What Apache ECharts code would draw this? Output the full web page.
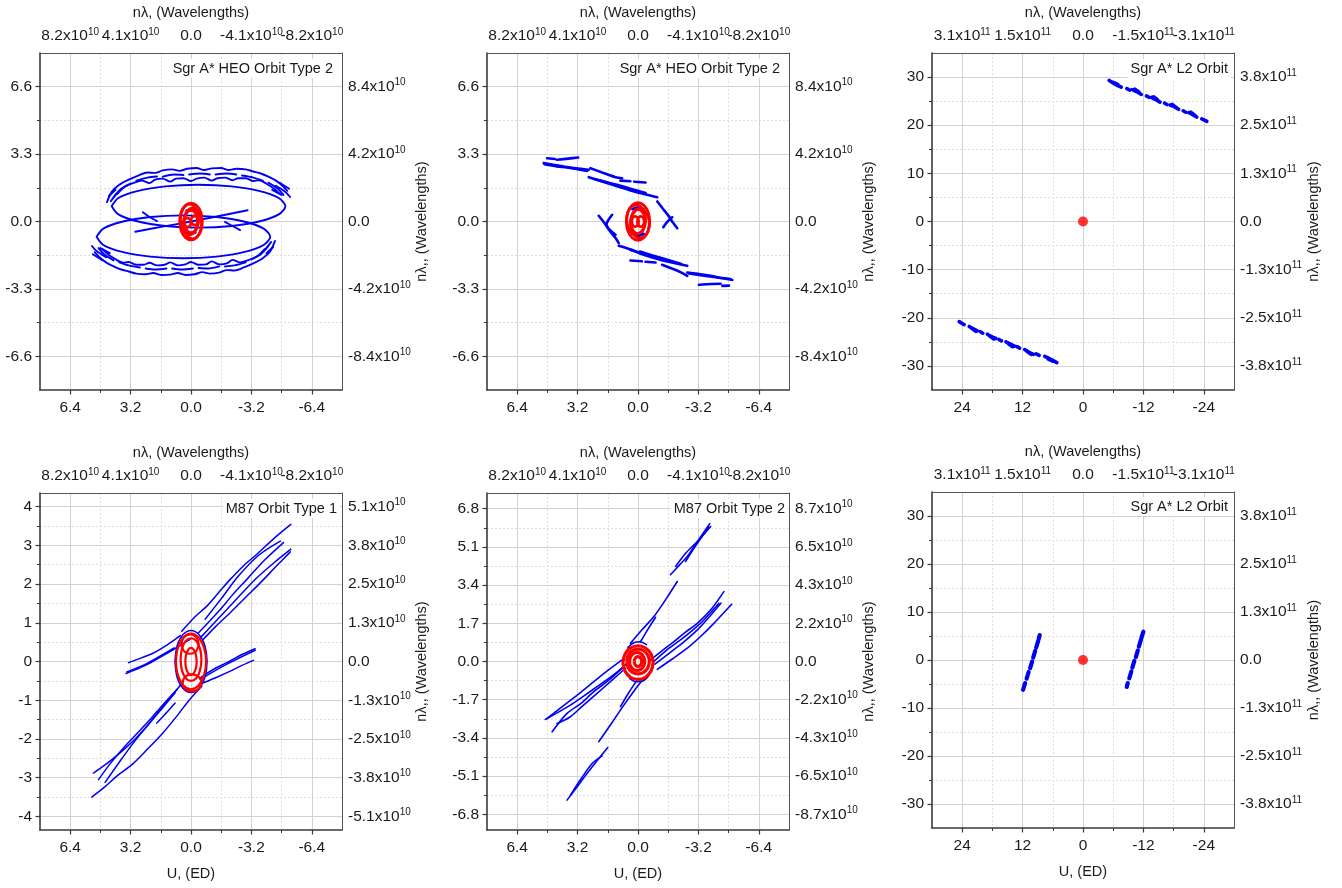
<!DOCTYPE html>
<html><head><meta charset="utf-8">
<script src="https://cdn.jsdelivr.net/npm/echarts@6/dist/echarts.min.js"></script>
<style>html,body{margin:0;padding:0;background:#fff}#c{width:1342px;height:888px}</style>
</head><body><div id="c"></div>
<script>
// ---------- axis ranges / ticks / labels ----------
const xRangeA = [-8, 8];
const xMajorA = [6.4, 3.2, 0, -3.2, -6.4];
const xMinorA = [4.8, 1.6, -1.6, -4.8];
const xLabelsA = ['6.4', '3.2', '0.0', '-3.2', '-6.4'];
const topLabelsA = ['8.2x10^10', '4.1x10^10', '0.0', '-4.1x10^10', '-8.2x10^10'];

const xRangeL2 = [-30, 30];
const xMajorL2 = [24, 12, 0, -12, -24];
const xMinorL2 = [18, 6, -6, -18];
const xLabelsL2 = ['24', '12', '0', '-12', '-24'];
const topLabelsL2 = ['3.1x10^11', '1.5x10^11', '0.0', '-1.5x10^11', '-3.1x10^11'];

const yRangeHEO = [-8.25, 8.25];
const yMajorHEO = [6.6, 3.3, 0, -3.3, -6.6];
const yMinorHEO = [4.95, 1.65, -1.65, -4.95];
const yLabelsHEO = ['6.6', '3.3', '0.0', '-3.3', '-6.6'];
const rightLabelsHEO = ['8.4x10^10', '4.2x10^10', '0.0', '-4.2x10^10', '-8.4x10^10'];

const yRangeL2 = [-35, 35];
const yMajorL2 = [30, 20, 10, 0, -10, -20, -30];
const yMinorL2 = [25, 15, 5, -5, -15, -25];
const yLabelsL2 = ['30', '20', '10', '0', '-10', '-20', '-30'];
const rightLabelsL2 = ['3.8x10^11', '2.5x10^11', '1.3x10^11', '0.0', '-1.3x10^11', '-2.5x10^11', '-3.8x10^11'];

const yRangeM1 = [-4.35, 4.35];
const yMajorM1 = [4, 3, 2, 1, 0, -1, -2, -3, -4];
const yMinorM1 = [3.5, 2.5, 1.5, 0.5, -0.5, -1.5, -2.5, -3.5];
const yLabelsM1 = ['4', '3', '2', '1', '0', '-1', '-2', '-3', '-4'];
const rightLabelsM1 = ['5.1x10^10', '3.8x10^10', '2.5x10^10', '1.3x10^10', '0.0', '-1.3x10^10', '-2.5x10^10', '-3.8x10^10', '-5.1x10^10'];

const yRangeM2 = [-7.5, 7.5];
const yMajorM2 = [6.8, 5.1, 3.4, 1.7, 0, -1.7, -3.4, -5.1, -6.8];
const yMinorM2 = [5.95, 4.25, 2.55, 0.85, -0.85, -2.55, -4.25, -5.95];
const yLabelsM2 = ['6.8', '5.1', '3.4', '1.7', '0.0', '-1.7', '-3.4', '-5.1', '-6.8'];
const rightLabelsM2 = ['8.7x10^10', '6.5x10^10', '4.3x10^10', '2.2x10^10', '0.0', '-2.2x10^10', '-4.3x10^10', '-6.5x10^10', '-8.7x10^10'];

const titles = ['Sgr A* HEO Orbit Type 2', 'Sgr A* HEO Orbit Type 2', 'Sgr A* L2 Orbit', 'M87 Orbit Type 1', 'M87 Orbit Type 2', 'Sgr A* L2 Orbit'];

// ---------- panel 1 : Sgr A* HEO Orbit Type 2 ----------
const p1Blue = [
 [[4.2,0.75],[3.85,1.15],[2.85,1.49],[1.36,1.72],[-0.4,1.8],[-2.16,1.72],[-3.65,1.49],[-4.65,1.15],[-5.0,0.75],[-4.65,0.35],[-3.65,0.01],[-2.16,-0.22],[-0.4,-0.3],[1.36,-0.22],[2.85,0.01],[3.85,0.35],[4.2,0.75]],
 [[5.0,-0.75],[4.65,-0.35],[3.65,-0.01],[2.16,0.22],[0.4,0.3],[-1.36,0.22],[-2.85,-0.01],[-3.85,-0.35],[-4.2,-0.75],[-3.85,-1.15],[-2.85,-1.49],[-1.36,-1.72],[0.4,-1.8],[2.16,-1.72],[3.65,-1.49],[4.65,-1.15],[5.0,-0.75]],
 [[4.45,0.95],[4.2,1.45],[3.8,1.8],[3.3,2.05],[2.8,2.25],[2.3,2.4],[1.9,2.38],[1.5,2.5],[1.0,2.55],[0.6,2.48],[0.2,2.58],[-0.3,2.62],[-0.7,2.52],[-1.1,2.6],[-1.6,2.62],[-2.0,2.52],[-2.4,2.58],[-2.9,2.55],[-3.3,2.45],[-3.7,2.35],[-4.1,2.2],[-4.5,2.0],[-4.85,1.75],[-5.1,1.5]],
 [[4.1,1.2],[3.7,1.6],[3.2,1.85]],
 [[2.9,2.0],[2.3,2.15],[1.8,2.2]],
 [[1.5,2.2],[0.9,2.3],[0.4,2.28]],
 [[0.1,2.3],[-0.5,2.35],[-1.0,2.3]],
 [[-1.3,2.3],[-1.9,2.35],[-2.4,2.3]],
 [[-2.7,2.25],[-3.3,2.15],[-3.8,2.0]],
 [[-4.1,1.9],[-4.6,1.6],[-4.9,1.3]],
 [[3.9,1.35],[3.5,1.7],[3.0,1.9],[2.6,2.0],[2.2,1.88],[1.9,2.05],[1.5,2.1],[1.1,1.95],[0.8,2.1],[0.4,2.12],[0.0,1.98],[-0.3,2.1],[-0.7,2.15],[-1.1,2.0],[-1.4,2.12],[-1.8,2.15],[-2.2,2.02],[-2.5,2.12],[-2.9,2.12],[-3.3,1.98],[-3.6,2.02],[-4.0,1.85],[-4.4,1.6],[-4.7,1.35]],
 [[4.35,1.25],[4.0,1.55]],
 [[4.25,1.0],[3.95,1.35]],
 [[-4.7,1.9],[-5.2,1.6]],
 [[-4.5,1.75],[-5.0,1.45],[-5.25,1.2]],
 [[-4.3,1.55],[-4.8,1.3]],
 [[-4.45,-0.95],[-4.2,-1.45],[-3.8,-1.8],[-3.3,-2.05],[-2.8,-2.25],[-2.3,-2.4],[-1.9,-2.38],[-1.5,-2.5],[-1.0,-2.55],[-0.6,-2.48],[-0.2,-2.58],[0.3,-2.62],[0.7,-2.52],[1.1,-2.6],[1.6,-2.62],[2.0,-2.52],[2.4,-2.58],[2.9,-2.55],[3.3,-2.45],[3.7,-2.35],[4.1,-2.2],[4.5,-2.0],[4.85,-1.75],[5.1,-1.5]],
 [[-4.1,-1.2],[-3.7,-1.6],[-3.2,-1.85]],
 [[-2.9,-2.0],[-2.3,-2.15],[-1.8,-2.2]],
 [[-1.5,-2.2],[-0.9,-2.3],[-0.4,-2.28]],
 [[-0.1,-2.3],[0.5,-2.35],[1.0,-2.3]],
 [[1.3,-2.3],[1.9,-2.35],[2.4,-2.3]],
 [[2.7,-2.25],[3.3,-2.15],[3.8,-2.0]],
 [[4.1,-1.9],[4.6,-1.6],[4.9,-1.3]],
 [[-3.9,-1.35],[-3.5,-1.7],[-3.0,-1.9],[-2.6,-2.0],[-2.2,-1.88],[-1.9,-2.05],[-1.5,-2.1],[-1.1,-1.95],[-0.8,-2.1],[-0.4,-2.12],[0.0,-1.98],[0.3,-2.1],[0.7,-2.15],[1.1,-2.0],[1.4,-2.12],[1.8,-2.15],[2.2,-2.02],[2.5,-2.12],[2.9,-2.12],[3.3,-1.98],[3.6,-2.02],[4.0,-1.85],[4.4,-1.6],[4.7,-1.35]],
 [[-4.35,-1.25],[-4.0,-1.55]],
 [[-4.25,-1.0],[-3.95,-1.35]],
 [[4.7,-1.9],[5.2,-1.6]],
 [[4.5,-1.75],[5.0,-1.45],[5.25,-1.2]],
 [[4.3,-1.55],[4.8,-1.3]],
 [[2.95,-0.5],[1.5,-0.25],[0.0,0.0],[-1.5,0.27],[-3.0,0.55]],
 [[2.55,0.45],[2.2,0.22],[1.8,0.02]],
 [[-1.8,-0.02],[-2.2,-0.22],[-2.6,-0.42]],
 [[0.25,0.55],[0.0,0.62],[-0.25,0.55]],
 [[0.25,-0.55],[0.0,-0.62],[-0.25,-0.55]]
];
const p1Red = [
 [[0.6,0],[0.52,0.45],[0.3,0.78],[0,0.9],[-0.3,0.78],[-0.52,0.45],[-0.6,0],[-0.52,-0.45],[-0.3,-0.78],[0,-0.9],[0.3,-0.78],[0.52,-0.45],[0.6,0]],
 [[0.56,0.1],[0.5,0.475],[0.32,0.75],[0.08,0.85],[-0.16,0.75],[-0.34,0.475],[-0.4,0.1],[-0.34,-0.275],[-0.16,-0.55],[0.08,-0.65],[0.32,-0.55],[0.5,-0.275],[0.56,0.1]],
 [[-0.56,-0.1],[-0.5,-0.475],[-0.32,-0.75],[-0.08,-0.85],[0.16,-0.75],[0.34,-0.475],[0.4,-0.1],[0.34,0.275],[0.16,0.55],[-0.08,0.65],[-0.32,0.55],[-0.5,0.275],[-0.56,-0.1]],
 [[0.4,-0.05],[0.37,0.06],[0.3,0.14],[0.2,0.17],[0.1,0.14],[0.03,0.06],[0,-0.05],[0.03,-0.16],[0.1,-0.24],[0.2,-0.27],[0.3,-0.24],[0.37,-0.16],[0.4,-0.05]],
 [[-0.4,0.05],[-0.37,-0.06],[-0.3,-0.14],[-0.2,-0.17],[-0.1,-0.14],[-0.03,-0.06],[0,0.05],[-0.03,0.16],[-0.1,0.24],[-0.2,0.27],[-0.3,0.24],[-0.37,0.16],[-0.4,0.05]],
 [[0.35,0],[0.3,0.275],[0.175,0.48],[0,0.55],[-0.175,0.48],[-0.3,0.275],[-0.35,0],[-0.3,-0.275],[-0.175,-0.48],[0,-0.55],[0.175,-0.48],[0.3,-0.275],[0.35,0]]
];

// ---------- panel 2 : Sgr A* HEO Orbit Type 2 ----------
const p2Blue = [
 [[5.0,2.86],[4.5,2.78],[3.93,2.69],[3.3,2.6],[2.61,2.53]],
 [[4.96,2.8],[4.3,2.7],[3.76,2.64],[3.2,2.56],[2.7,2.48]],
 [[4.82,3.1],[4.4,3.06]],
 [[4.29,3.02],[3.7,3.08],[3.17,3.13]],
 [[2.52,2.61],[1.9,2.4],[1.19,2.17],[0.84,2.12]],
 [[0.93,2.0],[0.4,1.97]],
 [[0.2,1.95],[-0.4,1.91]],
 [[2.61,2.17],[1.64,1.88],[0.4,1.52],[-0.3,1.35],[-1.02,1.19]],
 [[1.99,2.01],[0.93,1.75],[-0.4,1.39]],
 [[2.3,2.08],[1.2,1.78],[0.1,1.47]],
 [[-1.02,0.98],[-1.3,0.65],[-1.6,0.3],[-1.85,-0.05],[-2.08,-0.33]],
 [[-1.34,-0.28],[-1.55,-0.02],[-1.81,0.21]],
 [[2.08,0.28],[1.8,-0.05],[1.5,-0.45],[1.2,-0.8],[1.02,-1.06]],
 [[1.37,0.33],[1.67,-0.16],[1.19,-0.65]],
 [[-2.61,-2.5],[-3.3,-2.58],[-3.85,-2.66],[-4.5,-2.78],[-5.0,-2.86]],
 [[-2.7,-2.55],[-3.5,-2.65],[-4.3,-2.75],[-4.9,-2.82]],
 [[-3.23,-3.1],[-3.9,-3.06],[-4.38,-3.05]],
 [[-4.47,-3.15],[-4.82,-3.14]],
 [[-1.28,-2.12],[-1.9,-2.34],[-2.3,-2.5],[-2.61,-2.66]],
 [[0.4,-1.91],[-0.2,-1.95]],
 [[-0.4,-1.97],[-0.93,-2.01]],
 [[1.02,-1.19],[0.3,-1.4],[-0.31,-1.63],[-0.9,-1.8],[-1.55,-1.96],[-2.61,-2.17]],
 [[0.4,-1.39],[-0.93,-1.75],[-1.99,-2.01]],
 [[-0.1,-1.47],[-1.2,-1.78],[-2.3,-2.08]],
 [[0.3,0.6],[0.0,0.7],[-0.3,0.6]],
 [[0.3,-0.6],[0.0,-0.7],[-0.3,-0.6]]
];
const p2Red = [
 [[0.62,0],[0.54,0.46],[0.31,0.8],[0,0.92],[-0.31,0.8],[-0.54,0.46],[-0.62,0],[-0.54,-0.46],[-0.31,-0.8],[0,-0.92],[0.31,-0.8],[0.54,-0.46],[0.62,0]],
 [[0.6,0.1],[0.53,0.46],[0.35,0.72],[0.1,0.82],[-0.15,0.72],[-0.33,0.46],[-0.4,0.1],[-0.33,-0.26],[-0.15,-0.52],[0.1,-0.62],[0.35,-0.52],[0.53,-0.26],[0.6,0.1]],
 [[-0.6,-0.1],[-0.53,-0.46],[-0.35,-0.72],[-0.1,-0.82],[0.15,-0.72],[0.33,-0.46],[0.4,-0.1],[0.33,0.26],[0.15,0.52],[-0.1,0.62],[-0.35,0.52],[-0.53,0.26],[-0.6,-0.1]],
 [[0.33,0],[0.31,0.125],[0.24,0.22],[0.15,0.25],[0.06,0.22],[-0.01,0.125],[-0.03,0],[-0.01,-0.125],[0.06,-0.22],[0.15,-0.25],[0.24,-0.22],[0.31,-0.125],[0.33,0]],
 [[-0.33,0],[-0.31,-0.125],[-0.24,-0.22],[-0.15,-0.25],[-0.06,-0.22],[0.01,-0.125],[0.03,0],[0.01,0.125],[-0.06,0.22],[-0.15,0.25],[-0.24,0.22],[-0.31,0.125],[-0.33,0]],
 [[0.38,0],[0.33,0.3],[0.19,0.52],[0,0.6],[-0.19,0.52],[-0.33,0.3],[-0.38,0],[-0.33,-0.3],[-0.19,-0.52],[0,-0.6],[0.19,-0.52],[0.33,-0.3],[0.38,0]]
];

// ---------- panel 3 : Sgr A* L2 Orbit ----------
const p3Blue = [
 [[-5.2,29.3],[-6.3,28.6],[-7.6,27.9]],
 [[-6.0,28.9],[-6.9,28.5]],
 [[-8.7,27.6],[-9.3,27.3]],
 [[-9.8,27.4],[-10.8,26.9],[-11.6,26.4]],
 [[-10.3,27.5],[-11.1,26.9]],
 [[-12.6,26.1],[-13.1,25.8]],
 [[-13.6,25.8],[-14.5,25.3],[-15.3,24.8]],
 [[-14.0,25.9],[-14.8,25.3]],
 [[-16.2,24.6],[-16.7,24.3]],
 [[-17.3,24.2],[-18.2,23.8],[-19.0,23.3]],
 [[-17.7,24.3],[-18.5,23.7]],
 [[-19.9,23.0],[-20.4,22.7]],
 [[-21.0,22.6],[-21.8,22.2],[-22.6,21.7]],
 [[-21.4,22.7],[-22.2,22.1]],
 [[-23.6,21.3],[-24.0,21.1]],
 [[-24.3,21.0],[-24.6,20.8]],
 [[24.6,-20.8],[24.3,-21.0]],
 [[24.0,-21.2],[23.6,-21.4]],
 [[22.6,-21.8],[21.8,-22.3],[21.0,-22.7]],
 [[22.1,-22.2],[21.3,-22.8]],
 [[20.4,-22.9],[19.9,-23.2]],
 [[19.0,-23.4],[18.2,-23.9],[17.3,-24.3]],
 [[18.5,-23.8],[17.7,-24.4]],
 [[16.7,-24.5],[16.2,-24.8]],
 [[15.3,-25.0],[14.5,-25.4],[13.6,-25.9]],
 [[14.8,-25.4],[14.0,-26.0]],
 [[13.1,-26.0],[12.6,-26.3]],
 [[11.6,-26.6],[10.8,-27.1],[9.8,-27.6]],
 [[11.1,-27.0],[10.3,-27.6]],
 [[9.3,-27.5],[8.7,-27.8]],
 [[7.6,-28.0],[6.3,-28.7],[5.2,-29.3]],
 [[6.9,-28.6],[6.0,-29.0]]
];
const p3Red = [[0, 0]];

// ---------- panel 4 : M87 Orbit Type 1 ----------
const p4Blue = [
 [[0.49,0.78],[-0.2,1.15],[-0.84,1.43],[-1.5,1.8],[-2.08,2.12],[-2.8,2.48],[-3.49,2.77],[-4.4,3.18],[-5.29,3.54]],
 [[-0.75,1.09],[-1.6,1.62],[-2.5,2.2],[-3.6,2.75],[-4.73,3.11]],
 [[-0.4,0.74],[-1.0,1.05],[-1.55,1.34],[-2.2,1.72],[-2.96,2.12],[-3.9,2.62],[-4.9,3.07]],
 [[-0.49,0.61],[-1.2,0.98],[-1.9,1.34],[-2.7,1.76],[-3.49,2.16],[-4.4,2.55],[-5.29,2.9]],
 [[-0.57,0.53],[-1.3,0.9],[-2.08,1.26],[-2.9,1.66],[-3.67,2.03],[-4.5,2.45],[-5.26,2.83]],
 [[3.31,-0.03],[2.6,0.1],[1.99,0.22],[1.2,0.45],[0.57,0.67]],
 [[3.44,-0.31],[2.9,-0.2],[2.34,-0.08],[1.6,0.12],[0.93,0.31],[0.05,0.57]],
 [[3.4,-0.27],[2.3,-0.04],[0.9,0.35]],
 [[-0.49,-0.42],[-1.2,-0.2],[-1.9,-0.03],[-2.7,0.18],[-3.4,0.33]],
 [[-0.5,-0.46],[-1.9,-0.07],[-3.4,0.29]],
 [[-0.66,-0.55],[-1.4,-0.4],[-2.08,-0.25],[-2.7,-0.1],[-3.31,0.03]],
 [[-0.57,-0.64],[0.1,-1.0],[0.75,-1.41],[1.5,-1.85],[2.34,-2.28],[3.1,-2.65],[3.93,-2.96],[4.6,-3.25],[5.26,-3.5]],
 [[0.84,-0.81],[1.6,-1.25],[2.34,-1.67],[3.0,-2.02],[3.76,-2.36],[4.5,-2.65],[5.17,-2.88]],
 [[0.75,-0.72],[1.5,-1.12],[2.17,-1.5],[2.9,-1.88],[3.58,-2.23],[4.3,-2.65],[4.9,-3.05]],
 [[0.4,-0.51],[1.0,-0.88],[1.63,-1.24],[2.3,-1.65],[3.05,-2.1],[3.8,-2.6],[4.55,-3.12]],
 [[0.84,-1.07],[1.3,-1.32],[1.81,-1.59]],
 [[0.85,0],[0.74,0.4],[0.43,0.69],[0,0.8],[-0.43,0.69],[-0.74,0.4],[-0.85,0],[-0.74,-0.4],[-0.43,-0.69],[0,-0.8],[0.43,-0.69],[0.74,-0.4],[0.85,0]]
];
const p4Red = [
 [[0.8,0],[0.69,0.36],[0.4,0.62],[0,0.72],[-0.4,0.62],[-0.69,0.36],[-0.8,0],[-0.69,-0.36],[-0.4,-0.62],[0,-0.72],[0.4,-0.62],[0.69,-0.36],[0.8,0]],
 [[0.55,0.05],[0.48,0.33],[0.28,0.53],[0,0.6],[-0.28,0.53],[-0.48,0.33],[-0.55,0.05],[-0.48,-0.23],[-0.28,-0.43],[0,-0.5],[0.28,-0.43],[0.48,-0.23],[0.55,0.05]],
 [[0.5,0.45],[0.44,0.575],[0.275,0.67],[0.05,0.7],[-0.175,0.67],[-0.34,0.575],[-0.4,0.45],[-0.34,0.325],[-0.175,0.23],[0.05,0.2],[0.275,0.23],[0.44,0.325],[0.5,0.45]],
 [[0.45,-0.55],[0.38,-0.44],[0.2,-0.36],[-0.05,-0.33],[-0.3,-0.36],[-0.48,-0.44],[-0.55,-0.55],[-0.48,-0.66],[-0.3,-0.74],[-0.05,-0.77],[0.2,-0.74],[0.38,-0.66],[0.45,-0.55]],
 [[0.3,0],[0.26,0.175],[0.15,0.3],[0,0.35],[-0.15,0.3],[-0.26,0.175],[-0.3,0],[-0.26,-0.175],[-0.15,-0.3],[0,-0.35],[0.15,-0.3],[0.26,-0.175],[0.3,0]]
];

// ---------- panel 5 : M87 Orbit Type 2 ----------
const p5Blue = [
 [[-1.72,3.86],[-2.2,4.3],[-2.61,4.67],[-3.2,5.4],[-3.8,6.13]],
 [[-1.99,4.23],[-2.5,4.8],[-3.14,5.34],[-3.85,6.01]],
 [[-2.52,4.45],[-3.1,5.2],[-3.76,5.98]],
 [[0.4,0.81],[-0.2,1.4],[-0.84,2.0],[-1.5,2.8],[-2.08,3.56]],
 [[-0.13,0.88],[-0.5,1.4],[-0.93,1.97]],
 [[-0.66,0.07],[-1.3,0.5],[-1.9,0.88],[-2.5,1.3],[-3.14,1.7],[-3.9,2.35],[-4.55,3.11]],
 [[-0.84,0.0],[-1.5,0.5],[-2.25,0.96],[-2.9,1.4],[-3.49,1.85],[-4.29,2.59]],
 [[-0.9,-0.12],[-1.7,0.4],[-2.4,0.85],[-3.2,1.45],[-3.9,2.1],[-4.4,2.6]],
 [[-1.02,-0.35],[-1.8,0.1],[-2.61,0.59],[-3.3,1.1],[-3.94,1.63],[-4.96,2.55]],
 [[0.57,-0.08],[1.3,-0.6],[2.17,-1.12],[2.9,-1.55],[3.58,-1.94],[4.91,-2.58]],
 [[0.75,-0.23],[1.5,-0.8],[2.34,-1.34],[3.0,-1.85],[3.76,-2.31],[4.55,-3.13]],
 [[0.66,-0.3],[1.4,-0.85],[2.17,-1.42],[2.9,-1.95],[3.58,-2.46],[4.29,-2.76]],
 [[0.84,0.07],[1.6,-0.4],[2.34,-0.9],[3.0,-1.35],[3.67,-1.79],[4.82,-2.53]],
 [[-0.31,-0.75],[0.2,-1.3],[0.75,-1.94],[1.4,-2.75],[2.08,-3.57]],
 [[0.04,-0.82],[0.5,-1.4],[0.93,-2.01]],
 [[1.6,-3.83],[2.15,-4.4],[2.7,-4.99],[3.2,-5.55],[3.76,-6.17]],
 [[1.9,-4.2],[2.43,-4.54],[3.0,-5.2],[3.58,-5.95]],
 [[0.55,0.6],[0.25,0.82],[-0.1,0.88],[-0.45,0.75]],
 [[-0.55,-0.65],[-0.25,-0.87],[0.1,-0.9],[0.45,-0.75]],
 [[0.7,0.3],[0.8,0.0],[0.7,-0.3]],
 [[-0.7,0.35],[-0.8,0.05],[-0.72,-0.3]]
];
const p5Red = [
 [[0.8,-0.05],[0.69,0.325],[0.4,0.6],[0,0.7],[-0.4,0.6],[-0.69,0.325],[-0.8,-0.05],[-0.69,-0.425],[-0.4,-0.7],[0,-0.8],[0.4,-0.7],[0.69,-0.425],[0.8,-0.05]],
 [[0.6,0],[0.52,0.275],[0.3,0.48],[0,0.55],[-0.3,0.48],[-0.52,0.275],[-0.6,0],[-0.52,-0.275],[-0.3,-0.48],[0,-0.55],[0.3,-0.48],[0.52,-0.275],[0.6,0]],
 [[0.45,0],[0.4,0.2],[0.25,0.35],[0.05,0.4],[-0.15,0.35],[-0.3,0.2],[-0.35,0],[-0.3,-0.2],[-0.15,-0.35],[0.05,-0.4],[0.25,-0.35],[0.4,-0.2],[0.45,0]],
 [[0.2,0],[0.17,0.11],[0.1,0.19],[0,0.22],[-0.1,0.19],[-0.17,0.11],[-0.2,0],[-0.17,-0.11],[-0.1,-0.19],[0,-0.22],[0.1,-0.19],[0.17,-0.11],[0.2,0]]
];

// ---------- panel 6 : Sgr A* L2 Orbit ----------
const p6Blue = [
 [[11.9,-6.2],[11.5,-4.8]],
 [[11.2,-3.9],[10.8,-2.5]],
 [[10.5,-1.7],[10.1,-0.3]],
 [[9.9,0.5],[9.5,1.9]],
 [[9.3,2.6],[8.9,4.0]],
 [[8.8,4.4],[8.6,5.2]],
 [[-8.7,-5.6],[-8.9,-4.8]],
 [[-9.2,-3.8],[-9.6,-2.4]],
 [[-9.8,-1.6],[-10.2,-0.2]],
 [[-10.5,0.6],[-10.9,2.0]],
 [[-11.1,2.8],[-11.5,4.2]],
 [[-11.6,4.6],[-12.0,5.9]]
];
const p6Red = [[0, 0]];

// ---------- layout & style ----------
const FONT = '"Liberation Sans", Arial, Helvetica, sans-serif';
const TXT = '#1a1a1a';
const BLUE = '#0000f5';
const RED = '#ff0000';
const gridBoxes = [
  {left: 40, top: 53, width: 302, height: 337},
  {left: 487, top: 53, width: 302, height: 337},
  {left: 932, top: 53, width: 302, height: 337},
  {left: 40, top: 493, width: 302, height: 337},
  {left: 487, top: 493, width: 302, height: 337},
  {left: 932, top: 492, width: 302, height: 336}
];
const titleBoxes = [
  {right: 1006, top: 59}, {right: 559, top: 59}, {right: 111, top: 59},
  {right: 1002, top: 499}, {right: 554, top: 499}, {right: 111, top: 497}
];
const blueWidth = [1.9, 2.6, 3.6, 1.5, 1.6, 4.2];
const redWidth = [2.8, 2.8, 0, 2.2, 3.2, 0];

const panels = [
  {x: xRangeA, xMajor: xMajorA, xMinor: xMinorA, xLabels: xLabelsA, top: topLabelsA,
   y: yRangeHEO, yMajor: yMajorHEO, yMinor: yMinorHEO, yLabels: yLabelsHEO, right: rightLabelsHEO, blue: p1Blue, red: p1Red, dot: null, bottomName: false},
  {x: xRangeA, xMajor: xMajorA, xMinor: xMinorA, xLabels: xLabelsA, top: topLabelsA,
   y: yRangeHEO, yMajor: yMajorHEO, yMinor: yMinorHEO, yLabels: yLabelsHEO, right: rightLabelsHEO, blue: p2Blue, red: p2Red, dot: null, bottomName: false},
  {x: xRangeL2, xMajor: xMajorL2, xMinor: xMinorL2, xLabels: xLabelsL2, top: topLabelsL2,
   y: yRangeL2, yMajor: yMajorL2, yMinor: yMinorL2, yLabels: yLabelsL2, right: rightLabelsL2, blue: p3Blue, red: [], dot: p3Red, bottomName: false},
  {x: xRangeA, xMajor: xMajorA, xMinor: xMinorA, xLabels: xLabelsA, top: topLabelsA,
   y: yRangeM1, yMajor: yMajorM1, yMinor: yMinorM1, yLabels: yLabelsM1, right: rightLabelsM1, blue: p4Blue, red: p4Red, dot: null, bottomName: true},
  {x: xRangeA, xMajor: xMajorA, xMinor: xMinorA, xLabels: xLabelsA, top: topLabelsA,
   y: yRangeM2, yMajor: yMajorM2, yMinor: yMinorM2, yLabels: yLabelsM2, right: rightLabelsM2, blue: p5Blue, red: p5Red, dot: null, bottomName: true},
  {x: xRangeL2, xMajor: xMajorL2, xMinor: xMinorL2, xLabels: xLabelsL2, top: topLabelsL2,
   y: yRangeL2, yMajor: yMajorL2, yMinor: yMinorL2, yLabels: yLabelsL2, right: rightLabelsL2, blue: p6Blue, red: [], dot: p6Red, bottomName: true}
];

function lookup(major, labels) {
  return function (v) {
    for (let k = 0; k < major.length; k++) if (Math.abs(major[k] - v) < 1e-6) return labels[k];
    return '';
  };
}
function sci(s) {
  const p = s.split('^');
  return p.length > 1 ? '{n|' + p[0] + '}{s|' + p[1] + '}' : '{n|' + s + '}';
}
const LBL = 15.5;
const rich = {
  n: {fontSize: LBL, fontFamily: FONT, color: TXT, lineHeight: 18},
  s: {fontSize: 10, fontFamily: FONT, color: TXT, lineHeight: 10, verticalAlign: 'top'}
};
const nameStyle = {fontSize: 14.5, fontFamily: FONT, color: TXT};
const AX = '#3a3a3a';
const labelCommon = {show: true, hideOverlap: false, showMinLabel: true, showMaxLabel: true};

const grid = [], xAxis = [], yAxis = [], series = [], title = [];
let xCount = 0;
panels.forEach(function (P, i) {
  grid.push(Object.assign({containLabel: false}, gridBoxes[i]));
  const xMain = xCount;
  const topEven = P.xMajor.filter(function (_, k) { return k % 2 === 0; });
  const topOdd = P.xMajor.filter(function (_, k) { return k % 2 === 1; });
  const topF = lookup(P.xMajor, P.top);
  xAxis.push({gridIndex: i, type: 'value', position: 'bottom', min: P.x[0], max: P.x[1], inverse: true,
    axisLine: {show: true, onZero: false, lineStyle: {color: AX, width: 1.6}},
    axisTick: {show: true, inside: false, length: 4.5, customValues: P.xMajor, lineStyle: {color: AX, width: 1.2}},
    axisLabel: Object.assign({customValues: P.xMajor, formatter: lookup(P.xMajor, P.xLabels), fontSize: LBL, fontFamily: FONT, color: TXT, margin: 10}, labelCommon),
    splitLine: {show: false},
    name: P.bottomName ? 'U, (ED)' : '', nameLocation: 'middle', nameGap: 36, nameTextStyle: nameStyle});
  xAxis.push({gridIndex: i, type: 'value', position: 'top', min: P.x[0], max: P.x[1], inverse: true,
    axisLine: {show: true, onZero: false, lineStyle: {color: '#555', width: 1}},
    axisTick: {show: false, customValues: P.xMajor},
    axisLabel: Object.assign({customValues: topEven, formatter: function (v) { return sci(topF(v)); }, rich: rich, margin: 8}, labelCommon),
    splitLine: {show: true, lineStyle: {color: '#d2d2d2', width: 1}},
    name: 'n\u03bb, (Wavelengths)', nameLocation: 'middle', nameGap: 33, nameTextStyle: nameStyle});
  xAxis.push({gridIndex: i, type: 'value', position: 'top', min: P.x[0], max: P.x[1], inverse: true,
    axisLine: {show: false, onZero: false},
    axisTick: {show: false, customValues: topOdd},
    axisLabel: Object.assign({customValues: topOdd, formatter: function (v) { return sci(topF(v)); }, rich: rich, margin: 8}, labelCommon),
    splitLine: {show: false}});
  xAxis.push({gridIndex: i, type: 'value', position: 'bottom', min: P.x[0], max: P.x[1], inverse: true,
    axisLine: {show: false, onZero: false},
    axisTick: {show: true, inside: false, length: 3, customValues: P.xMinor, lineStyle: {color: AX, width: 1}},
    axisLabel: {show: false},
    splitLine: {show: true, lineStyle: {color: '#dedede', width: 1, type: [2, 2]}}});
  xCount += 4;

  yAxis.push({gridIndex: i, type: 'value', position: 'left', min: P.y[0], max: P.y[1],
    axisLine: {show: true, onZero: false, lineStyle: {color: AX, width: 1.6}},
    axisTick: {show: true, inside: false, length: 4.5, customValues: P.yMajor, lineStyle: {color: AX, width: 1.2}},
    axisLabel: Object.assign({customValues: P.yMajor, formatter: lookup(P.yMajor, P.yLabels), fontSize: LBL, fontFamily: FONT, color: TXT, margin: 8}, labelCommon),
    splitLine: {show: false}});
  const rightF = lookup(P.yMajor, P.right);
  yAxis.push({gridIndex: i, type: 'value', position: 'right', min: P.y[0], max: P.y[1],
    axisLine: {show: true, onZero: false, lineStyle: {color: '#555', width: 1}},
    axisTick: {show: false, customValues: P.yMajor},
    axisLabel: Object.assign({customValues: P.yMajor, formatter: function (v) { return sci(rightF(v)); }, rich: rich, margin: 6}, labelCommon),
    splitLine: {show: true, lineStyle: {color: '#d2d2d2', width: 1}},
    name: 'n\u03bb,, (Wavelengths)', nameLocation: 'middle', nameRotate: 90, nameGap: 72, nameTextStyle: nameStyle});
  yAxis.push({gridIndex: i, type: 'value', position: 'left', min: P.y[0], max: P.y[1],
    axisLine: {show: false, onZero: false},
    axisTick: {show: true, inside: false, length: 3, customValues: P.yMinor, lineStyle: {color: AX, width: 1}},
    axisLabel: {show: false},
    splitLine: {show: true, lineStyle: {color: '#dedede', width: 1, type: [2, 2]}}});

  P.blue.forEach(function (tr) {
    series.push({type: 'line', xAxisIndex: xMain, yAxisIndex: 3 * i, data: tr, symbol: 'none', showSymbol: false,
      smooth: 0.3, silent: true, animation: false, z: 3,
      lineStyle: {color: BLUE, width: blueWidth[i], cap: 'round'}});
  });
  P.red.forEach(function (tr) {
    series.push({type: 'line', xAxisIndex: xMain, yAxisIndex: 3 * i, data: tr, symbol: 'none', showSymbol: false,
      smooth: 0.4, silent: true, animation: false, z: 4,
      lineStyle: {color: RED, width: redWidth[i]}});
  });
  if (P.dot) {
    series.push({type: 'scatter', xAxisIndex: xMain, yAxisIndex: 3 * i, data: P.dot, symbol: 'circle', symbolSize: 10,
      silent: true, animation: false, z: 5, itemStyle: {color: RED}});
  }
  title.push({text: titles[i], right: titleBoxes[i].right, top: titleBoxes[i].top, backgroundColor: '#ffffff', padding: [2, 3, 2, 3],
    textStyle: {fontSize: 14.5, fontWeight: 'normal', fontFamily: FONT, color: TXT}});
});

const chart = echarts.init(document.getElementById('c'), null, {renderer: 'canvas'});
chart.setOption({backgroundColor: '#ffffff', animation: false, title: title, grid: grid, xAxis: xAxis, yAxis: yAxis, series: series});
</script></body></html>
